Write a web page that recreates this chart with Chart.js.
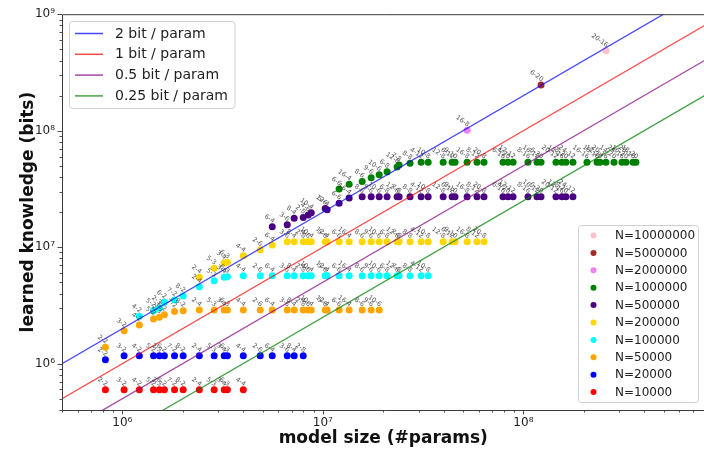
<!DOCTYPE html>
<html><head><meta charset="utf-8">
<script src="https://cdn.jsdelivr.net/npm/chart.js@4.4.1/dist/chart.umd.min.js"></script>
<style>
html,body{margin:0;padding:0;background:#fff;overflow:hidden;width:704px;height:449px}
canvas{display:block}
</style></head>
<body>
<canvas id="c" width="708" height="449" style="width:708px;height:449px"></canvas>
<script>
// ---- model sizes (x) and their names ----
const modelNames = ['2-2','3-2','4-2','5-2','2-3','6-2','7-2','8-2','2-4','5-3','3-4','6-3','4-4','2-6','6-4','3-6','8-4','2-8','4-6','10-4','5-6','12-4','6-6','16-4','8-6','9-6','10-6','6-8','12-6','7-8','8-8','4-12','10-8','12-8','6-12','9-10','16-8','8-12','20-8','6-16','4-20','12-12','8-16','16-12','6-20','20-12','12-16','8-20','24-12','16-16','18-16','12-20','20-16','14-20','24-16','16-20','28-16','18-20'];
const modelParams = [8.23e5,1.02e6,1.215e6,1.43e6,1.53e6,1.62e6,1.82e6,2.01e6,2.42e6,2.87e6,3.22e6,3.34e6,4.01e6,4.87e6,5.59e6,6.64e6,7.19e6,7.98e6,8.45e6,8.75e6,1.027e7,1.05e7,1.205e7,1.352e7,1.57e7,1.741e7,1.909e7,2.09e7,2.345e7,2.40e7,2.72e7,3.09e7,3.35e7,3.98e7,4.41e7,4.56e7,5.24e7,5.87e7,6.36e7,7.91e7,8.38e7,8.88e7,1.054e8,1.169e8,1.224e8,1.453e8,1.557e8,1.63e8,1.766e8,2.075e8,2.33e8,2.41e8,2.58e8,2.83e8,3.10e8,3.25e8,3.52e8,3.64e8];

// ---- series: N individuals ----
const nValues = [10000000, 5000000, 2000000, 1000000, 500000, 200000, 100000, 50000, 20000, 10000];
const nColors = ['#ffc0cb','#a52a2a','#ee82ee','#008000','#4b0082','#ffd700','#00ffff','#ffa500','#0000ff','#ff0000'];
const firstModelIndex = [52, 44, 36, 22, 14, 8, 2, 0, 0, 0];

const learned_N10000000 = [4.86e8];
const learned_N5000000 = [2.47e8];
const learned_N2000000 = [1.01e8];
const learned_N1000000 = [3.15e7,3.47e7,3.67e7,3.95e7,4.19e7,4.45e7,4.88e7,5.08e7,5.26e7,5.35e7,5.35e7,5.35e7,5.35e7,5.35e7,5.35e7,5.35e7,5.35e7,5.35e7,5.35e7,5.35e7,5.35e7,5.35e7,5.35e7,5.35e7,5.35e7,5.35e7,5.35e7,5.35e7,5.35e7,5.35e7,5.35e7,5.35e7,5.35e7,5.35e7,5.35e7,5.35e7];
const learned_N500000 = [1.50e7,1.56e7,1.77e7,1.80e7,1.89e7,1.97e7,2.15e7,2.10e7,2.38e7,2.64e7,2.71e7,2.71e7,2.71e7,2.71e7,2.71e7,2.71e7,2.71e7,2.71e7,2.71e7,2.71e7,2.71e7,2.71e7,2.71e7,2.71e7,2.71e7,2.71e7,2.71e7,2.71e7,2.71e7,2.71e7,2.71e7,2.71e7,2.71e7,2.71e7,2.71e7];
const learned_N200000 = [5.51e6,6.60e6,7.32e6,7.43e6,8.45e6,9.52e6,1.045e7,1.115e7,1.115e7,1.115e7,1.115e7,1.115e7,1.115e7,1.115e7,1.115e7,1.115e7,1.115e7,1.115e7,1.115e7,1.115e7,1.115e7,1.115e7,1.115e7,1.115e7,1.115e7,1.115e7,1.115e7,1.115e7,1.115e7,1.115e7,1.115e7];
const learned_N100000 = [2.55e6,2.85e6,3.01e6,3.36e6,3.52e6,3.81e6,4.58e6,5.16e6,5.51e6,5.58e6,5.69e6,5.69e6,5.69e6,5.69e6,5.69e6,5.69e6,5.69e6,5.69e6,5.69e6,5.69e6,5.69e6,5.69e6,5.69e6,5.69e6,5.69e6,5.69e6,5.69e6,5.69e6,5.69e6,5.69e6,5.69e6];
const learned_N50000 = [1.38e6,1.92e6,2.15e6,2.42e6,2.50e6,2.63e6,2.81e6,2.85e6,2.89e6,2.89e6,2.89e6,2.89e6,2.89e6,2.89e6,2.89e6,2.89e6,2.89e6,2.89e6,2.89e6,2.89e6,2.89e6,2.89e6,2.89e6,2.89e6,2.89e6,2.89e6,2.89e6];
const learned_N20000 = [1.08e6,1.17e6,1.17e6,1.17e6,1.17e6,1.17e6,1.17e6,1.17e6,1.17e6,1.17e6,1.17e6,1.17e6,1.17e6,1.17e6,1.17e6,1.17e6,1.17e6,1.17e6];
const learned_N10000 = [5.98e5,5.98e5,5.98e5,5.98e5,5.98e5,5.98e5,5.98e5,5.98e5,5.98e5,5.98e5,5.98e5,5.98e5,5.98e5];
const learnedBySeries = [learned_N10000000, learned_N5000000, learned_N2000000, learned_N1000000, learned_N500000, learned_N200000, learned_N100000, learned_N50000, learned_N20000, learned_N10000];

// ---- reference lines ----
const bitsPerParam = [2, 1, 0.5, 0.25];
const lineColors = ['rgba(0,0,255,0.72)','rgba(255,0,0,0.72)','rgba(128,0,128,0.72)','rgba(0,128,0,0.72)'];

const X_MIN = 5e5, X_MAX = 8e8, Y_MIN = 4e5, Y_MAX = 1e9;

const datasets = [];
bitsPerParam.forEach((b, i) => {
  datasets.push({
    kind: 'line', label: b + ' bit / param',
    data: [{x: X_MIN, y: b * X_MIN}, {x: X_MAX, y: b * X_MAX}],
    showLine: true, pointRadius: 0, borderColor: lineColors[i], borderWidth: 1.3,
    order: 0
  });
});
nValues.forEach((n, i) => {
  const s = firstModelIndex[i];
  const ys = learnedBySeries[i];
  datasets.push({
    kind: 'points', label: 'N=' + n,
    data: ys.map((y, j) => ({x: modelParams[s + j], y: y})),
    pointNames: ys.map((y, j) => modelNames[s + j]),
    backgroundColor: nColors[i], borderWidth: 0, pointRadius: 3.5, pointHoverRadius: 3.5,
    order: 10 - i
  });
});

const SUP = {'0':'\u2070','1':'\u00b9','2':'\u00b2','3':'\u00b3','4':'\u2074','5':'\u2075','6':'\u2076','7':'\u2077','8':'\u2078','9':'\u2079'};
function powLabel(v){ const e = Math.round(Math.log10(v)); return '10' + String(e).split('').map(c => SUP[c]).join(''); }
function decades(min, max){ const out=[]; for(let e=Math.ceil(Math.log10(min)-1e-9); e<=Math.floor(Math.log10(max)+1e-9); e++) out.push(Math.pow(10,e)); return out; }
function allTicks(min, max){ const out=[]; for(let e=Math.floor(Math.log10(min)); e<=Math.ceil(Math.log10(max)); e++){ for(let m=1;m<10;m++){ const v=m*Math.pow(10,e); if(v>=min*0.999 && v<=max*1.001) out.push({v:v, major:m===1}); } } return out; }

const labelPlugin = {
  id: 'pointNames',
  afterDatasetsDraw(chart){
    const ctx = chart.ctx, a = chart.chartArea;
    ctx.save();
    ctx.beginPath(); ctx.rect(a.left, a.top, a.right-a.left, a.bottom-a.top); ctx.clip();
    ctx.font = '6.5px "DejaVu Sans"';
    ctx.fillStyle = 'rgba(40,40,40,0.78)';
    ctx.textAlign = 'right'; ctx.textBaseline = 'bottom';
    chart.data.datasets.forEach((ds, i) => {
      if (!ds.pointNames) return;
      const meta = chart.getDatasetMeta(i);
      meta.data.forEach((el, j) => {
        ctx.save(); ctx.translate(el.x, el.y); ctx.rotate(35*Math.PI/180);
        ctx.fillText(ds.pointNames[j], -1.5, -1.5);
        ctx.restore();
      });
    });
    ctx.restore();
  }
};

function roundRect(ctx, x, y, w, h, r){
  ctx.beginPath();
  ctx.moveTo(x+r, y); ctx.lineTo(x+w-r, y); ctx.arcTo(x+w, y, x+w, y+r, r);
  ctx.lineTo(x+w, y+h-r); ctx.arcTo(x+w, y+h, x+w-r, y+h, r);
  ctx.lineTo(x+r, y+h); ctx.arcTo(x, y+h, x, y+h-r, r);
  ctx.lineTo(x, y+r); ctx.arcTo(x, y, x+r, y, r); ctx.closePath();
}

const framePlugin = {
  id: 'frame',
  afterDraw(chart){
    const ctx = chart.ctx, a = chart.chartArea;
    const xs = chart.scales.x, ys = chart.scales.y;
    ctx.save();
    // spines
    ctx.strokeStyle = '#3a3a3a'; ctx.lineWidth = 1;
    ctx.beginPath();
    ctx.moveTo(a.right + 5, a.top + 0.5); ctx.lineTo(a.left + 0.5, a.top + 0.5);
    ctx.lineTo(a.left + 0.5, a.bottom + 0.5); ctx.lineTo(a.right + 5, a.bottom + 0.5);
    ctx.stroke();
    // ticks
    ctx.lineWidth = 0.9;
    allTicks(X_MIN, X_MAX).forEach(t => {
      const px = Math.round(xs.getPixelForValue(t.v)) + 0.5;
      ctx.beginPath(); ctx.moveTo(px, a.bottom); ctx.lineTo(px, a.bottom + (t.major ? 4.5 : 2.5)); ctx.stroke();
    });
    allTicks(Y_MIN, Y_MAX).forEach(t => {
      const py = Math.round(ys.getPixelForValue(t.v)) + 0.5;
      ctx.beginPath(); ctx.moveTo(a.left, py); ctx.lineTo(a.left - (t.major ? 4.5 : 2.5), py); ctx.stroke();
    });
    // axis titles
    ctx.fillStyle = '#111';
    ctx.font = 'bold 17px "DejaVu Sans"';
    ctx.textAlign = 'center'; ctx.textBaseline = 'alphabetic';
    ctx.fillText('model size (#params)', (a.left + a.right)/2, 443);
    ctx.save(); ctx.translate(33, (a.top + a.bottom)/2); ctx.rotate(-Math.PI/2);
    ctx.fillText('learned knowledge (bits)', 0, 0); ctx.restore();

    const lineSets = chart.data.datasets.filter(d => d.kind === 'line');
    const ptSets = chart.data.datasets.filter(d => d.kind === 'points');
    // legend 1 (lines)
    roundRect(ctx, 69.5, 21.5, 165.5, 87, 3);
    ctx.fillStyle = 'rgba(255,255,255,0.85)'; ctx.fill();
    ctx.strokeStyle = '#d0d0d0'; ctx.lineWidth = 1; ctx.stroke();
    ctx.font = '14px "DejaVu Sans"'; ctx.textAlign = 'left'; ctx.textBaseline = 'middle';
    lineSets.forEach((d, i) => {
      const y = 33.5 + i * 20.8;
      ctx.strokeStyle = d.borderColor; ctx.lineWidth = 1.5;
      ctx.beginPath(); ctx.moveTo(75, y); ctx.lineTo(103, y); ctx.stroke();
      ctx.fillStyle = '#222'; ctx.fillText(d.label, 115, y + 0.5);
    });
    // legend 2 (points)
    roundRect(ctx, 578.5, 225.5, 120, 177, 3);
    ctx.fillStyle = 'rgba(255,255,255,0.85)'; ctx.fill();
    ctx.strokeStyle = '#d0d0d0'; ctx.lineWidth = 1; ctx.stroke();
    ctx.font = '12px "DejaVu Sans"';
    ptSets.forEach((d, i) => {
      const y = 235.5 + i * 17.4;
      ctx.fillStyle = d.backgroundColor;
      ctx.beginPath(); ctx.arc(593.5, y, 3, 0, Math.PI*2); ctx.fill();
      ctx.fillStyle = '#222'; ctx.fillText(d.label, 615, y + 0.5);
    });
    ctx.restore();
  }
};

Chart.defaults.font.family = '"DejaVu Sans"';
new Chart(document.getElementById('c'), {
  type: 'scatter',
  data: { datasets: datasets },
  options: {
    responsive: false, animation: false, devicePixelRatio: 1,
    layout: { padding: { top: 14, right: 3, left: 0, bottom: 0 } },
    plugins: { legend: { display: false }, tooltip: { enabled: false } },
    scales: {
      x: {
        type: 'logarithmic', position: 'bottom', min: X_MIN, max: X_MAX,
        grid: { display: false, drawTicks: false }, border: { display: false },
        afterBuildTicks: sc => { sc.ticks = decades(X_MIN, X_MAX).map(v => ({value: v})); },
        afterFit: sc => { sc.height = 39; },
        ticks: { autoSkip: false, maxRotation: 0, padding: 6, color: '#222', font: { size: 12 }, callback: v => powLabel(v) }
      },
      y: {
        type: 'logarithmic', position: 'left', min: Y_MIN, max: Y_MAX,
        grid: { display: false, drawTicks: false }, border: { display: false },
        afterBuildTicks: sc => { sc.ticks = decades(Y_MIN, Y_MAX).map(v => ({value: v})); },
        afterFit: sc => { sc.width = 62; },
        ticks: { autoSkip: false, padding: 7, color: '#222', font: { size: 12 }, callback: v => powLabel(v) }
      }
    }
  },
  plugins: [labelPlugin, framePlugin]
});
</script>
</body></html>
